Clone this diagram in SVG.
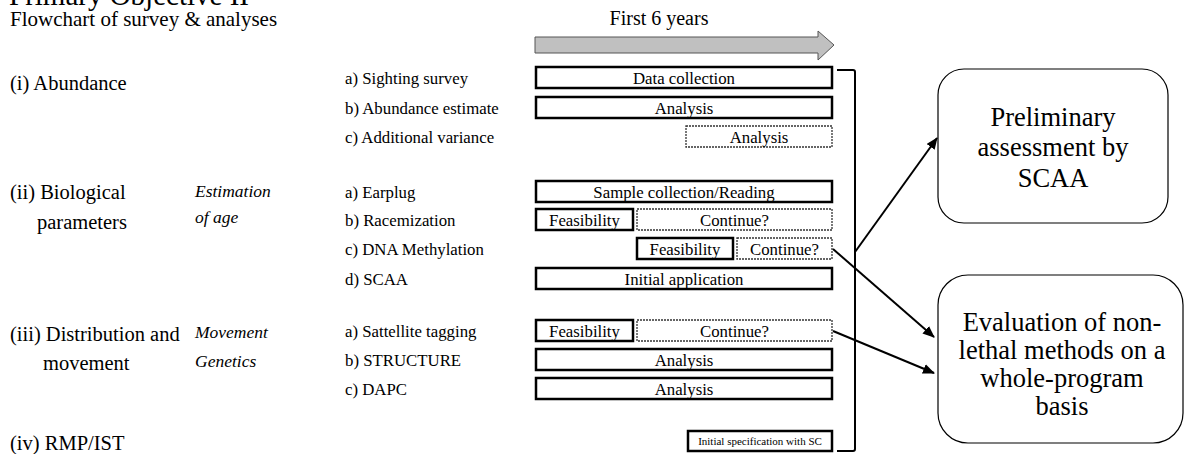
<svg xmlns="http://www.w3.org/2000/svg" width="1185" height="454" viewBox="0 0 1185 454">
  <style>
    text { font-family: "Liberation Serif", "Times New Roman", serif; fill: #000; }
    .title { font-size: 29px; }
    .sub { font-size: 21px; }
    .cat { font-size: 20.5px; }
    .item { font-size: 16.8px; }
    .ital { font-size: 17.5px; font-style: italic; }
    .bar { font-size: 16.8px; text-anchor: middle; }
    .tiny { font-size: 11px; text-anchor: middle; }
    .big { font-size: 26.5px; text-anchor: middle; }
    .solid { fill: #fff; stroke: #000; stroke-width: 2.5; }
    .dash { fill: #fff; stroke: #333; stroke-width: 1.3; stroke-dasharray: 2 1; }
    .round { fill: #fff; stroke: #000; stroke-width: 1.2; }
    .conn { fill: none; stroke: #000; stroke-width: 2; }
  </style>
  <defs>
    <marker id="head" markerWidth="12" markerHeight="10" refX="11" refY="5" orient="auto" markerUnits="userSpaceOnUse">
      <path d="M0,0 L12,5 L0,10 Z" fill="#000"/>
    </marker>
  </defs>

  <rect width="1185" height="454" fill="#fff"/>

  <!-- headings -->
  <g id="heading">
    <text class="title" x="9" y="5">Primary Objective II</text>
    <text class="sub" x="10" y="26">Flowchart of survey &amp; analyses</text>
  </g>

  <!-- timeline arrow -->
  <g id="timeline">
    <text x="659" y="25" font-size="20" text-anchor="middle">First 6 years</text>
    <path d="M535,37 H818 V31 L834,45 L818,60 V53 H535 Z" fill="#c0c0c0" stroke="#555" stroke-width="1"/>
  </g>

  <!-- (i) Abundance -->
  <g id="abundance">
    <text class="cat" x="10" y="90">(i) Abundance</text>
    <text class="item" x="345" y="84">a) Sighting survey</text>
    <text class="item" x="345" y="113.5">b) Abundance estimate</text>
    <text class="item" x="345" y="143">c) Additional variance</text>
    <rect class="solid" x="536" y="67" width="296" height="21"/>
    <text class="bar" x="684" y="83.5">Data collection</text>
    <rect class="solid" x="536" y="97" width="296" height="21"/>
    <text class="bar" x="684" y="113.5">Analysis</text>
    <rect class="dash" x="686" y="126" width="146" height="21"/>
    <text class="bar" x="759" y="142.5">Analysis</text>
  </g>

  <!-- (ii) Biological parameters -->
  <g id="biological">
    <text class="cat" x="10" y="199">(ii) Biological</text>
    <text class="cat" x="37" y="229">parameters</text>
    <text class="ital" x="195" y="197">Estimation</text>
    <text class="ital" x="195" y="223">of age</text>
    <text class="item" x="345" y="197.5">a) Earplug</text>
    <text class="item" x="345" y="226">b) Racemization</text>
    <text class="item" x="345" y="255">c) DNA Methylation</text>
    <text class="item" x="345" y="284.5">d) SCAA</text>
    <rect class="solid" x="536" y="181" width="296" height="21"/>
    <text class="bar" x="684" y="197.5">Sample collection/Reading</text>
    <rect class="solid" x="536" y="209" width="97" height="21"/>
    <text class="bar" x="584.5" y="225.5">Feasibility</text>
    <rect class="dash" x="637" y="209" width="195" height="21"/>
    <text class="bar" x="734.5" y="225.5">Continue?</text>
    <rect class="solid" x="637" y="238" width="96" height="21"/>
    <text class="bar" x="685" y="254.5">Feasibility</text>
    <rect class="dash" x="737" y="238" width="95" height="21"/>
    <text class="bar" x="784.5" y="254.5">Continue?</text>
    <rect class="solid" x="536" y="268" width="296" height="21"/>
    <text class="bar" x="684" y="284.5">Initial application</text>
  </g>

  <!-- (iii) Distribution and movement -->
  <g id="distribution">
    <text class="cat" x="10" y="341">(iii) Distribution and</text>
    <text class="cat" x="43" y="370">movement</text>
    <text class="ital" x="195" y="338">Movement</text>
    <text class="ital" x="195" y="367">Genetics</text>
    <text class="item" x="345" y="336.5">a) Sattellite tagging</text>
    <text class="item" x="345" y="365.5">b) STRUCTURE</text>
    <text class="item" x="345" y="394.5">c) DAPC</text>
    <rect class="solid" x="536" y="320" width="97" height="21"/>
    <text class="bar" x="584.5" y="336.5">Feasibility</text>
    <rect class="dash" x="637" y="320" width="195" height="21"/>
    <text class="bar" x="734.5" y="336.5">Continue?</text>
    <rect class="solid" x="536" y="349" width="296" height="21"/>
    <text class="bar" x="684" y="365.5">Analysis</text>
    <rect class="solid" x="536" y="378" width="296" height="21"/>
    <text class="bar" x="684" y="394.5">Analysis</text>
  </g>

  <!-- (iv) RMP/IST -->
  <g id="rmp">
    <text class="cat" x="10" y="450">(iv) RMP/IST</text>
    <rect class="solid" x="688" y="431" width="144" height="20"/>
    <text class="tiny" x="760" y="445">Initial specification with SC</text>
  </g>

  <!-- outcome boxes -->
  <g id="preliminary">
    <rect class="round" x="938" y="69" width="230" height="154" rx="26" ry="26"/>
    <text class="big" x="1053" y="125.5">Preliminary</text>
    <text class="big" x="1053" y="156">assessment by</text>
    <text class="big" x="1053" y="186.5">SCAA</text>
  </g>
  <g id="evaluation">
    <rect class="round" x="938" y="275" width="245" height="168" rx="30" ry="30"/>
    <text class="big" x="1062" y="331">Evaluation of non-</text>
    <text class="big" x="1062" y="359">lethal methods on a</text>
    <text class="big" x="1062" y="387">whole-program</text>
    <text class="big" x="1062" y="415">basis</text>
  </g>

  <!-- connectors -->
  <g id="connectors">
    <path class="conn" d="M837,70 H853 Q855,70 855,72 V449 Q855,451 853,451 H837"/>
    <line class="conn" x1="855" y1="252" x2="937" y2="138" marker-end="url(#head)"/>
    <line class="conn" x1="833" y1="249" x2="934" y2="337" marker-end="url(#head)"/>
    <line class="conn" x1="833" y1="331" x2="934" y2="373" marker-end="url(#head)"/>
  </g>
</svg>
